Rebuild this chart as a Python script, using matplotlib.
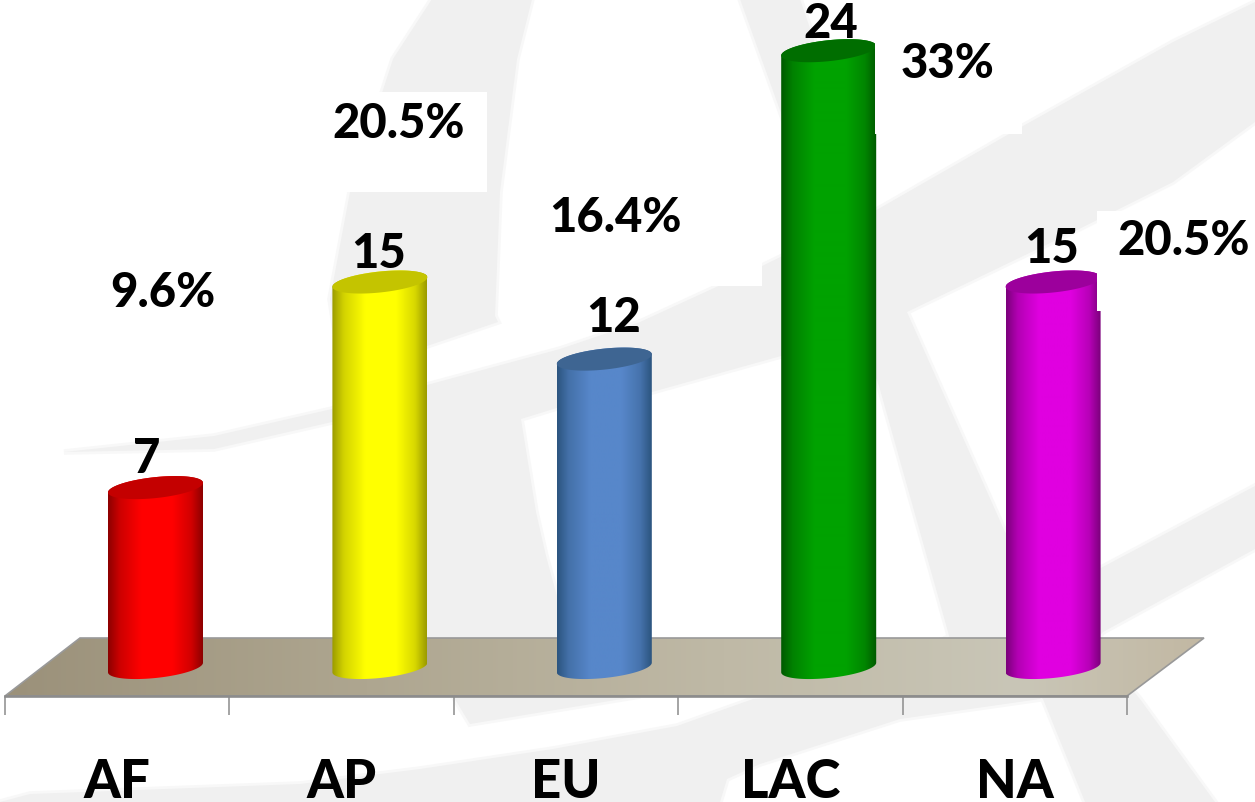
#!/usr/bin/env python3
"""Cylinder bar chart on a floor, with a pale watermark behind it."""

import matplotlib

matplotlib.use("Agg")
import matplotlib.pyplot as plt
import numpy as np
from matplotlib.patches import Polygon, Rectangle
from matplotlib.transforms import Affine2D

WIDTH, HEIGHT = 1255, 803

categories = ["AF", "AP", "EU", "LAC", "NA"]
values = [7, 15, 12, 24, 15]
percents = ["9.6%", "20.5%", "16.4%", "33%", "20.5%"]

# bright, edge, cap
bar_colors = [
    ("#ff0000", "#8e0000", "#c40000"),
    ("#ffff00", "#9c9c00", "#c4c400"),
    ("#5787ca", "#2c5580", "#3e6592"),
    ("#00a200", "#005a00", "#006e00"),
    ("#e000e0", "#7c007c", "#9c009c"),
]

# pixel layout
X0_PX = 117.2
CAT_PX = 224.4
BASE_PX = 668.5
UNIT_PX = 25.7
DEPTH = 38.3 / CAT_PX
BAR_HALF = 47.5 / CAT_PX
SHEAR = 4.8 / UNIT_PX
CAP_B = 10.5 / UNIT_PX
FLOOR_FRONT = (BASE_PX - 697) / UNIT_PX

value_xy = [(147, 473), (379, 268), (614, 332), (831, 38), (1052, 263)]
percent_xy = [(163, 307), (399, 138), (615, 232), (948, 78), (1184, 255)]

watermark = [
    [(64, 453), (214, 437), (332, 410), (427, 386), (560, 350), (640, 323), (762, 267),
     (873, 213), (1023, 127), (1173, 43), (1255, 3), (1255, 123), (1173, 183), (1073, 233),
     (907, 313), (781, 357), (652, 393), (560, 408), (521, 420), (536, 513), (546, 557),
     (570, 645), (380, 645), (380, 415), (332, 423), (214, 450)],
    [(432, 0), (532, 0), (517, 60), (500, 193), (495, 317), (498, 323), (427, 347), (340, 365),
     (330, 300), (350, 193), (393, 60)],
    [(740, 0), (800, 0), (907, 313), (1005, 533), (1090, 640), (1140, 700), (1215, 803),
     (1085, 803), (1043, 700), (950, 640), (879, 387)],
    [(30, 795), (300, 785), (420, 770), (553, 750), (677, 727), (753, 700), (800, 697),
     (900, 660), (1099, 570), (1255, 487), (1255, 550), (1103, 633), (1040, 700), (900, 720),
     (760, 765), (727, 780), (720, 803), (0, 803)],
    [(453, 697), (470, 725), (640, 697)],
]
white_boxes = [(330, 93, 487, 193), (540, 180, 762, 287), (875, 0, 1022, 135), (1097, 212, 1255, 312)]
floor_corners = [(5, 697), (80, 639), (1204, 639), (1127, 697)]

plt.rcParams.update({"font.family": ["Lato", "DejaVu Sans"], "font.weight": "black"})


def hex_rgb(color):
    return np.array(matplotlib.colors.to_rgb(color))


def draw_cylinder(ax, center, value, colors):
    bright, edge, cap = colors
    t = np.linspace(0, np.pi, 60)

    # front of the base ellipse, then back of the top ellipse
    base_x = center + BAR_HALF * np.cos(t + np.pi)
    base_y = -CAP_B * np.sin(t) - SHEAR * np.cos(t)
    top_x = center + BAR_HALF * np.cos(t)
    top_y = value + CAP_B * np.sin(t) + SHEAR * np.cos(t)
    outline = np.column_stack([np.r_[base_x, top_x], np.r_[base_y, top_y]])
    body = Polygon(outline, closed=True, transform=ax.transData, fc="none", ec="none")
    ax.add_patch(body)

    pos = np.linspace(0, 1, 96)
    mix = np.interp(pos, [0, 0.12, 0.35, 0.68, 0.88, 1], [0, 0.55, 1, 1, 0.6, 0])
    strip = hex_rgb(edge) + (hex_rgb(bright) - hex_rgb(edge)) * mix[:, None]
    img = ax.imshow(
        strip[None, :, :],
        extent=(center - BAR_HALF, center + BAR_HALF, -1.5, value + 1.5),
        aspect="auto",
        interpolation="bilinear",
        zorder=4,
    )
    img.set_clip_path(body)

    ring = np.linspace(0, 2 * np.pi, 120)
    cap_xy = np.column_stack(
        [center + BAR_HALF * np.cos(ring), value + CAP_B * np.sin(ring) + SHEAR * np.cos(ring)]
    )
    ax.add_patch(Polygon(cap_xy, closed=True, fc=cap, ec="none", zorder=5))


def main():
    fig = plt.figure(figsize=(WIDTH / 100, HEIGHT / 100), dpi=100, facecolor="white")
    ax = fig.add_axes([0, 0, 1, 1], facecolor="none")
    px = Affine2D().scale(1, -1).translate(0, HEIGHT)

    # soft rim first so the watermark edges are not razor sharp
    for shape in watermark:
        ax.add_patch(Polygon(shape, closed=True, transform=px, fc="none", ec="#f8f8f8", lw=4, zorder=0))
    for shape in watermark:
        ax.add_patch(Polygon(shape, closed=True, transform=px, fc="#f0f0f0", ec="none", zorder=0.5))

    # floor slab
    floor = Polygon(floor_corners, closed=True, transform=px, fc="none", ec="#999999", lw=1.2, zorder=3)
    ax.add_patch(floor)
    stops = [0, 0.3, 0.6, 0.85, 1]
    shades = ["#9b917a", "#aea690", "#bfb9a6", "#c9c6b7", "#c2b8a3"]
    pos = np.linspace(0, 1, 128)
    floor_rgb = np.column_stack([np.interp(pos, stops, [hex_rgb(s)[k] for s in shades]) for k in range(3)])
    floor_img = ax.imshow(
        floor_rgb[None, :, :],
        extent=((5 - X0_PX) / CAT_PX, (1204 - X0_PX) / CAT_PX, FLOOR_FRONT, (BASE_PX - 639) / UNIT_PX),
        aspect="auto",
        interpolation="bilinear",
        zorder=2,
    )
    floor_img.set_clip_path(floor)

    for i, value in enumerate(values):
        draw_cylinder(ax, i + DEPTH, value, bar_colors[i])

    # boxes left over around the labels, they also trim the bars a little
    for x0, y0, x1, y1 in white_boxes:
        ax.add_patch(Rectangle((x0, y0), x1 - x0, y1 - y0, transform=px, fc="white", ec="none", zorder=6))

    for value, (x, y) in zip(values, value_xy):
        ax.text(x, y, str(value), transform=px, ha="center", va="baseline", fontsize=34, color="black", zorder=7)
    for label, (x, y) in zip(percents, percent_xy):
        ax.text(x, y, label, transform=px, ha="center", va="baseline", fontsize=34, color="black", zorder=7)

    ax.set_xlim(-X0_PX / CAT_PX, (WIDTH - X0_PX) / CAT_PX)
    ax.set_ylim((BASE_PX - HEIGHT) / UNIT_PX, BASE_PX / UNIT_PX)

    for side in ("left", "right", "top"):
        ax.spines[side].set_visible(False)
    ax.spines["bottom"].set_position(("data", FLOOR_FRONT))
    ax.spines["bottom"].set_bounds(-0.5, 4.5)
    ax.spines["bottom"].set_color("#8c8c8c")
    ax.spines["bottom"].set_linewidth(1.9)
    ax.spines["bottom"].set_zorder(3.5)
    ax.set_yticks([])
    ax.set_xticks(np.arange(len(categories) + 1) - 0.5)
    ax.set_xticklabels([])
    ax.set_xticks(np.arange(len(categories)), minor=True)
    ax.set_xticklabels(categories, minor=True)
    ax.tick_params(axis="x", which="major", length=13.5, width=1.1, color="#8c8c8c")
    ax.tick_params(axis="x", which="minor", length=0, pad=44, labelsize=38, labelcolor="black")

    fig.savefig("out.png", dpi=100)
    plt.close(fig)


if __name__ == "__main__":
    main()
